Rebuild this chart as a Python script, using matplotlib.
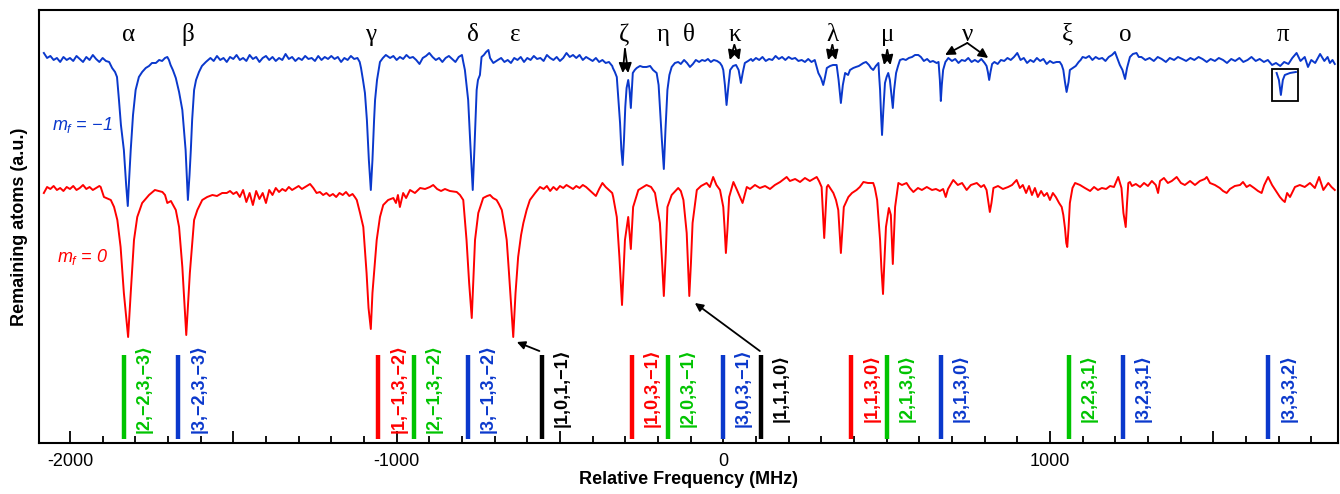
import numpy as np
import matplotlib
matplotlib.use("Agg")
import matplotlib.pyplot as plt
from matplotlib.ticker import MultipleLocator

plt.rcParams['font.family'] = ['Liberation Sans', 'DejaVu Sans']
plt.rcParams['axes.unicode_minus'] = False
plt.rcParams['mathtext.fontset'] = 'custom'
plt.rcParams['mathtext.it'] = 'Liberation Sans:italic'
plt.rcParams['mathtext.rm'] = 'Liberation Sans'

BLUE = '#0a38cc'
RED = '#ff0000'
GREEN = '#00c400'
BLACK = '#000000'

# m_f = -1 spectrum: (relative frequency in MHz, remaining atoms in a.u.)
blue_spectrum = [
    (-2080, 390), (-2070, 385), (-2060, 387), (-2050, 383), (-2040, 385), (-2030, 381), (-2020, 386),
    (-2010, 383), (-2000, 385), (-1990, 382), (-1980, 387), (-1970, 384), (-1960, 381), (-1950, 386),
    (-1940, 383), (-1930, 388), (-1920, 384), (-1910, 381), (-1900, 385), (-1890, 382), (-1880, 381),
    (-1871, 375), (-1862, 371), (-1856, 366), (-1850, 343), (-1844, 318), (-1835, 293), (-1828, 258),
    (-1823, 237), (-1819, 263), (-1814, 293), (-1807, 328), (-1799, 353), (-1789, 366), (-1779, 371),
    (-1768, 375), (-1758, 377), (-1749, 380), (-1737, 380), (-1727, 383), (-1718, 382), (-1709, 385),
    (-1702, 386), (-1697, 383), (-1692, 378), (-1685, 373), (-1676, 365), (-1666, 351), (-1656, 333),
    (-1651, 313), (-1646, 293), (-1642, 263), (-1639, 243), (-1634, 268), (-1630, 293), (-1626, 323),
    (-1620, 353), (-1614, 363), (-1605, 371), (-1596, 377), (-1584, 381),
    (-1570, 385), (-1560, 382), (-1550, 387), (-1540, 383), (-1530, 385), (-1520, 381), (-1510, 386),
    (-1500, 384), (-1490, 388), (-1480, 383), (-1470, 385), (-1460, 382), (-1450, 388), (-1440, 384),
    (-1430, 386), (-1420, 381), (-1410, 385), (-1400, 387), (-1390, 383), (-1380, 386), (-1370, 382),
    (-1360, 385), (-1350, 383), (-1340, 389), (-1330, 384), (-1320, 386), (-1310, 382), (-1300, 385),
    (-1290, 383), (-1280, 387), (-1270, 384), (-1260, 385), (-1250, 382), (-1240, 387), (-1230, 383),
    (-1220, 386), (-1210, 384), (-1200, 387), (-1190, 384), (-1180, 386), (-1170, 381), (-1160, 385),
    (-1150, 383), (-1140, 387), (-1130, 384), (-1120, 385),
    (-1113, 381), (-1109, 375), (-1103, 363), (-1097, 350), (-1091, 323), (-1085, 283), (-1079, 253),
    (-1074, 283), (-1069, 323), (-1066, 343), (-1060, 363), (-1051, 381), (-1042, 385), (-1033, 388),
    (-1020, 385), (-1010, 387), (-1000, 383), (-990, 386), (-980, 384), (-970, 388), (-960, 385),
    (-950, 386), (-940, 383), (-930, 379), (-920, 385), (-910, 387), (-900, 390), (-890, 386),
    (-880, 383), (-870, 385), (-860, 381), (-850, 385), (-840, 387), (-830, 384), (-820, 381),
    (-810, 386), (-800, 388),
    (-796, 381), (-791, 373), (-786, 358), (-781, 343), (-775, 303), (-767, 253), (-762, 293),
    (-755, 353), (-751, 363), (-745, 368), (-740, 386), (-733, 388), (-726, 391), (-719, 393),
    (-714, 385), (-704, 380),
    (-690, 383), (-680, 385), (-670, 381), (-660, 383), (-650, 380), (-640, 385), (-630, 383),
    (-620, 386), (-610, 381), (-600, 385), (-590, 383), (-580, 387), (-570, 384), (-560, 385),
    (-550, 382), (-540, 388), (-530, 385), (-520, 383), (-510, 386), (-500, 382), (-490, 385),
    (-480, 390), (-470, 386), (-460, 388), (-450, 385), (-440, 388), (-430, 383), (-420, 386),
    (-410, 384), (-400, 382), (-390, 385), (-380, 381), (-370, 383), (-360, 380), (-350, 381),
    (-340, 377),
    (-338, 375), (-332, 371), (-326, 366), (-322, 348), (-316, 320), (-312, 293), (-308, 278),
    (-304, 303), (-300, 336), (-296, 355), (-291, 363), (-287, 353), (-283, 335), (-280, 353),
    (-277, 370), (-271, 373), (-265, 375), (-255, 377), (-246, 376), (-235, 376), (-224, 377),
    (-215, 373), (-204, 370), (-198, 358), (-194, 336), (-188, 303), (-182, 274), (-177, 313),
    (-171, 353), (-165, 368), (-158, 376), (-148, 380), (-138, 381), (-130, 379), (-120, 383),
    (-111, 380), (-102, 376), (-93, 379), (-84, 383), (-74, 381), (-65, 383), (-56, 382),
    (-47, 384), (-38, 381), (-29, 383), (-19, 382), (-10, 380), (-4, 377), (0, 373),
    (5, 358), (10, 338), (16, 358), (21, 373), (30, 377), (39, 378), (47, 373), (54, 360),
    (60, 371), (66, 380), (76, 382), (85, 384),
    (90, 382), (100, 385), (110, 383), (120, 386), (130, 382), (140, 384), (150, 383),
    (160, 387), (170, 384), (180, 386), (190, 383), (200, 386), (210, 384), (220, 385),
    (230, 382), (240, 383), (250, 381), (260, 384), (270, 381), (280, 383),
    (291, 370), (299, 365), (306, 358), (311, 365), (317, 375), (327, 377), (336, 378),
    (347, 378), (353, 363), (360, 340), (366, 358), (373, 370), (382, 368), (388, 373),
    (398, 375), (406, 376), (415, 377), (429, 380), (437, 381), (446, 378), (452, 375),
    (459, 373), (467, 377), (475, 380), (477, 368), (480, 353), (483, 328), (486, 308),
    (490, 333), (495, 360), (500, 366), (505, 370), (510, 363), (515, 348), (519, 335),
    (523, 353), (529, 370), (535, 377), (541, 383), (550, 384), (559, 383), (568, 385),
    (578, 386), (587, 388), (597, 388), (605, 386), (614, 382), (624, 384), (633, 381),
    (642, 382), (653, 380), (659, 381), (663, 363), (666, 342), (669, 358), (673, 373),
    (680, 381), (689, 385),
    (700, 382), (710, 384), (720, 380), (730, 383), (740, 382), (750, 385), (760, 381),
    (770, 383), (780, 381), (790, 384), (800, 380), (806, 377), (810, 371), (814, 363),
    (818, 371), (823, 379), (830, 381), (840, 379), (850, 383), (860, 382), (870, 385),
    (880, 383), (890, 386), (900, 390), (910, 383), (920, 385), (930, 380), (940, 383),
    (950, 381), (960, 385), (970, 382), (980, 384), (990, 379), (1000, 382), (1010, 380),
    (1020, 381), (1030, 381), (1036, 378), (1041, 373), (1046, 361), (1051, 351),
    (1057, 361), (1061, 373), (1070, 375), (1079, 377), (1088, 381),
    (1094, 383), (1100, 386), (1110, 385), (1120, 387), (1130, 383), (1140, 386), (1150, 384),
    (1160, 385), (1170, 382), (1180, 386), (1190, 388), (1199, 391), (1207, 384), (1214, 378),
    (1222, 373), (1230, 364), (1236, 375), (1245, 386), (1254, 389), (1265, 390), (1272, 386),
    (1280, 386), (1292, 383), (1305, 385), (1318, 382), (1330, 386), (1342, 384), (1355, 381),
    (1367, 385), (1380, 383), (1392, 386), (1405, 384), (1417, 382), (1430, 385), (1442, 383),
    (1455, 386), (1467, 384), (1480, 381), (1492, 384), (1505, 382), (1517, 385), (1530, 383),
    (1542, 380), (1555, 384), (1567, 382), (1580, 385), (1592, 381), (1605, 383), (1617, 386),
    (1630, 382), (1642, 384), (1655, 381), (1667, 383), (1680, 378), (1692, 380), (1705, 377),
    (1717, 381), (1730, 379), (1742, 385), (1755, 390), (1767, 382), (1780, 386), (1790, 376),
    (1800, 383), (1812, 380), (1827, 389), (1840, 382), (1850, 386), (1857, 380), (1865, 383),
    (1872, 379),
]

# m_f = 0 spectrum
red_spectrum = [
    (-2080, 250), (-2070, 256), (-2060, 254), (-2050, 257), (-2040, 253), (-2030, 255),
    (-2020, 252), (-2010, 256), (-2000, 254), (-1990, 257), (-1980, 253), (-1970, 255),
    (-1960, 258), (-1950, 254), (-1940, 256), (-1930, 253), (-1920, 255), (-1910, 257),
    (-1906, 256), (-1896, 246), (-1875, 243), (-1865, 236), (-1855, 223), (-1845, 196),
    (-1835, 150), (-1822, 106), (-1814, 150), (-1804, 203), (-1794, 226), (-1779, 240),
    (-1758, 248), (-1740, 253), (-1717, 251), (-1709, 248), (-1702, 240), (-1691, 242),
    (-1676, 233), (-1666, 216), (-1656, 176), (-1644, 108), (-1633, 170), (-1620, 223),
    (-1610, 233), (-1595, 243), (-1580, 246), (-1564, 248), (-1550, 247), (-1534, 250),
    (-1520, 250), (-1510, 252), (-1500, 249), (-1490, 251), (-1480, 246), (-1470, 253),
    (-1460, 241), (-1450, 250), (-1440, 238), (-1430, 252), (-1420, 244), (-1410, 250),
    (-1400, 240), (-1390, 253), (-1380, 248), (-1370, 255), (-1360, 251), (-1350, 254),
    (-1340, 252), (-1330, 256), (-1320, 253), (-1310, 255), (-1300, 257), (-1290, 254),
    (-1280, 256), (-1265, 259), (-1255, 255), (-1245, 250), (-1235, 251), (-1225, 248),
    (-1215, 250), (-1205, 247), (-1195, 249), (-1185, 246), (-1175, 250), (-1165, 248),
    (-1155, 251), (-1145, 247), (-1135, 249), (-1128, 246),
    (-1122, 243), (-1112, 230), (-1102, 216), (-1092, 170), (-1086, 135), (-1079, 114),
    (-1074, 150), (-1069, 170), (-1061, 203), (-1051, 226), (-1041, 238), (-1026, 243),
    (-1010, 245), (-1002, 240), (-996, 248), (-990, 236), (-980, 250), (-971, 245),
    (-959, 253), (-944, 250), (-928, 255), (-913, 254), (-898, 256), (-888, 258),
    (-876, 254), (-864, 252), (-852, 254), (-837, 252), (-816, 251), (-806, 248),
    (-796, 243), (-786, 203), (-778, 160), (-770, 125), (-765, 165), (-760, 203),
    (-750, 230), (-735, 245), (-723, 247), (-714, 248), (-705, 245), (-694, 243),
    (-687, 239), (-678, 233), (-671, 220), (-663, 203), (-656, 170), (-650, 140),
    (-643, 106), (-636, 150), (-628, 186), (-619, 208), (-612, 220), (-602, 233),
    (-592, 243), (-576, 250), (-561, 256),
    (-550, 254), (-540, 257), (-530, 252), (-520, 256), (-510, 253), (-500, 257),
    (-490, 255), (-480, 258), (-470, 256), (-460, 254), (-450, 257), (-440, 255),
    (-430, 258), (-420, 256), (-410, 253), (-400, 250), (-390, 247), (-380, 254),
    (-370, 260), (-360, 256), (-350, 253), (-340, 250),
    (-337, 246), (-326, 226), (-318, 186), (-310, 138), (-301, 203), (-291, 226),
    (-283, 194), (-276, 236), (-260, 253), (-235, 258), (-221, 256), (-209, 250),
    (-194, 220), (-188, 185), (-182, 147), (-176, 190), (-171, 236), (-158, 248),
    (-138, 255), (-130, 252), (-122, 243), (-112, 210), (-104, 147), (-99, 180),
    (-94, 220), (-81, 253), (-68, 257), (-51, 260), (-41, 256), (-31, 266),
    (-21, 258), (-10, 253), (0, 236), (4, 215), (8, 190), (13, 215), (18, 246),
    (31, 261), (42, 253), (51, 246), (59, 240), (72, 256), (82, 254), (97, 258),
    (112, 255), (128, 257), (143, 254), (158, 258), (174, 261), (194, 266), (204, 262),
    (220, 264), (235, 261), (250, 265), (265, 262), (286, 266), (293, 262), (301, 256),
    (305, 230), (309, 205), (313, 230), (317, 256), (321, 258), (337, 250), (345, 243),
    (352, 233), (360, 190), (366, 220), (369, 236), (383, 246), (394, 250), (408, 253),
    (418, 256), (429, 261), (443, 260), (459, 260), (464, 255), (471, 243), (480, 203),
    (484, 175), (489, 149), (493, 180), (498, 216), (507, 235), (513, 228), (519, 179),
    (526, 236), (536, 260), (547, 258), (561, 260), (571, 255), (582, 251), (596, 255),
    (608, 253), (623, 256), (639, 253), (651, 254), (663, 252), (673, 254), (681, 246),
    (688, 254), (704, 263), (718, 258), (731, 260), (745, 253), (758, 258), (776, 260),
    (789, 256), (798, 258), (806, 253), (812, 240), (816, 231), (821, 240), (827, 255),
    (841, 257), (856, 254), (872, 256), (884, 258), (898, 263), (908, 255), (917, 258),
    (927, 250), (936, 257), (945, 248), (954, 255), (963, 246), (973, 252), (982, 247),
    (991, 250), (1000, 243), (1009, 250), (1018, 246), (1028, 240), (1036, 236),
    (1041, 228), (1046, 215), (1050, 200), (1053, 196), (1057, 215), (1061, 240),
    (1069, 255), (1077, 260), (1092, 258), (1107, 255), (1123, 252), (1135, 256),
    (1147, 253), (1159, 255), (1172, 254), (1184, 257), (1196, 256), (1209, 266),
    (1219, 255), (1225, 230), (1232, 216), (1236, 240), (1240, 260), (1245, 261),
    (1251, 257), (1263, 259), (1276, 256), (1288, 260), (1300, 257), (1312, 262),
    (1324, 258), (1331, 250), (1337, 262), (1349, 265), (1361, 260), (1373, 262),
    (1388, 266), (1401, 260), (1413, 258), (1429, 262), (1444, 258), (1459, 262),
    (1474, 264), (1480, 266), (1490, 260), (1505, 258), (1520, 255), (1530, 252),
    (1541, 250), (1551, 254), (1566, 257), (1582, 258), (1591, 261), (1602, 256),
    (1612, 258), (1625, 255), (1637, 252), (1648, 250), (1656, 258), (1668, 266),
    (1680, 258), (1694, 251), (1704, 246), (1712, 243), (1719, 241), (1726, 250),
    (1735, 246), (1750, 256), (1765, 258), (1780, 256), (1796, 260), (1811, 255),
    (1824, 266), (1837, 253), (1852, 260), (1862, 256), (1872, 253),
]

# small magnified trace inside the box near pi
inset_f = [1694, 1701, 1707, 1713, 1719, 1735, 1753]
inset_v = [370, 363, 348, 363, 368, 370, 371]
inset_box = (1679, 342, 81, 32)   # MHz, a.u., width, height

# resonance labels
greek = ['α', 'β', 'γ', 'δ', 'ε', 'ζ', 'η', 'θ', 'κ', 'λ', 'μ', 'ν', 'ξ', 'ο', 'π']
greek_f = [-1820, -1638, -1079, -765, -637, -303, -184, -104, 34, 334, 502, 747, 1054, 1230, 1712]

# double arrows: (apex, left tip, right tip)
double_arrows = [
    ((-301, 394), (-308, 370), (-291, 370)),
    ((34, 398), (20, 383), (49, 383)),
    ((334, 398), (321, 383), (345, 383)),
    ((502, 393), (492, 378), (512, 378)),
    ((747, 400), (679, 388), (811, 385)),
]
long_arrows = [((-563, 92), (-632, 101)), ((112, 92), (-87, 140))]

# calculated transitions
state_f = [-1835, -1669, -1057, -948, -782, -556, -280, -170, -2, 115, 391, 500, 666, 1057, 1223, 1668]
state_lbl = ['|2,−2,3,−3⟩', '|3,−2,3,−3⟩', '|1,−1,3,−2⟩', '|2,−1,3,−2⟩', '|3,−1,3,−2⟩',
             '|1,0,1,−1⟩', '|1,0,3,−1⟩', '|2,0,3,−1⟩', '|3,0,3,−1⟩', '|1,1,1,0⟩',
             '|1,1,3,0⟩', '|2,1,3,0⟩', '|3,1,3,0⟩', '|2,2,3,1⟩', '|3,2,3,1⟩', '|3,3,3,2⟩']
state_col = [GREEN, BLUE, RED, GREEN, BLUE, BLACK, RED, GREEN, BLUE, BLACK,
             RED, GREEN, BLUE, GREEN, BLUE, BLUE]

fig = plt.figure(figsize=(13.4, 4.94), dpi=100)
ax = fig.add_axes([0.0293, 0.1032, 0.9690, 0.8766])

bf, bv = np.array(blue_spectrum).T
rf, rv = np.array(red_spectrum).T
ax.plot(bf, bv, color=BLUE, lw=1.4)
ax.plot(rf, rv, color=RED, lw=1.4)

ax.plot(inset_f, inset_v, color=BLUE, lw=1.4)
ax.add_patch(plt.Rectangle(inset_box[:2], inset_box[2], inset_box[3], fill=False,
                           ec='k', lw=1.3))

for g, f in zip(greek, greek_f):
    ax.text(f, 408, g, family='Liberation Serif', fontsize=18, ha='center', va='center')

for apex, left, right in double_arrows:
    for tip in (left, right):
        ax.annotate('', xy=tip, xytext=apex,
                    arrowprops=dict(arrowstyle='-|>', color='k', lw=1.3,
                                    mutation_scale=14, shrinkA=0, shrinkB=0))
for start, tip in long_arrows:
    ax.annotate('', xy=tip, xytext=start,
                arrowprops=dict(arrowstyle='-|>', color='k', lw=1.3,
                                mutation_scale=12, shrinkA=0, shrinkB=0))

for f, lbl, c in zip(state_f, state_lbl, state_col):
    ax.plot([f, f], [4, 88], color=c, lw=3.2, solid_capstyle='butt')
    ax.text(f + 62, 55, lbl, color=c, rotation=90, ha='center', va='center',
            fontsize=13, fontweight='bold')

ax.text(-2055, 318, r'$m_f$ = −1', color=BLUE, fontsize=13, style='italic', va='center')
ax.text(-2039, 186, r'$m_f$ = 0', color=RED, fontsize=13, style='italic', va='center')

ax.set_xlim(-2094, 1881)
ax.set_ylim(0, 433)
ax.set_yticks([])
ax.set_xticks(np.arange(-2000, 1501, 500))
ax.set_xticklabels(['-2000', '', '-1000', '', '0', '', '1000', ''])
ax.xaxis.set_minor_locator(MultipleLocator(100))
ax.tick_params(axis='x', which='major', direction='in', length=9, width=1.3,
               labelsize=13, pad=7)
ax.tick_params(axis='x', which='minor', direction='in', length=5, width=1.3)
for s in ax.spines.values():
    s.set_linewidth(1.5)

ax.set_xlabel('Relative Frequency (MHz)', fontsize=13, fontweight='bold', labelpad=1)
ax.set_ylabel('Remaining atoms (a.u.)', fontsize=13, fontweight='bold', labelpad=8)

fig.savefig('out.png', dpi=100)
